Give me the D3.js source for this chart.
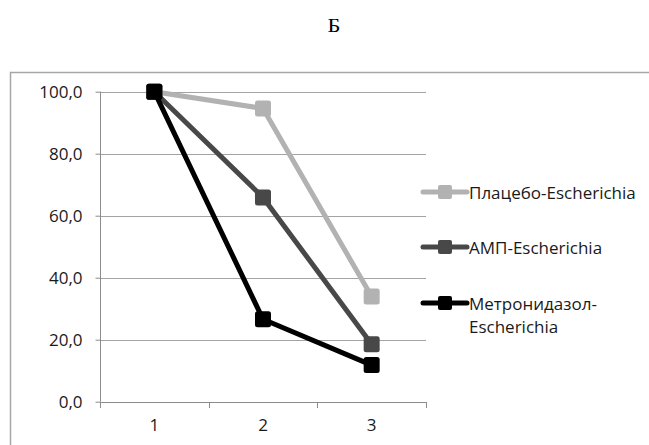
<!DOCTYPE html>
<html lang="ru">
<head>
  <meta charset="UTF-8"/>
  <title>Б</title>
  <script src="https://d3js.org/d3.v7.min.js"></script>
  <style>
    body { margin: 0; background: #fff; }
    text { font-family: "Open Sans", sans-serif; }
  </style>
</head>
<body>
<script>
  var w = 649;
  var h = 445;

  // data
  var categories = ["1", "2", "3"];
  var yTicks = [0, 20, 40, 60, 80, 100];
  var seriesNames = ["Плацебо-Escherichia", "АМП-Escherichia", "Метронидазол-Escherichia"];
  var placebo = [100, 94.6, 33.9];
  var amp = [100, 65.9, 18.5];
  var metro = [100, 26.6, 11.8];

  var colors = ["#b2b2b2", "#484848", "#000000"];
  var series = [placebo, amp, metro];

  // plot area (note: "top" is reserved on window, so use other names)
  var plotL = 100, plotR = 426, plotT = 91.7, plotB = 401.7;
  var fontSize = "17px";

  var xScale = d3.scaleBand()
          .domain(categories)
          .range([plotL, plotR]);

  var yScale = d3.scaleLinear()
          .domain([0, 100])
          .range([plotB, plotT]);

  var svg = d3.select("body")
          .append("svg")
          .attr("width", w)
          .attr("height", h);

  // title
  svg.append("text")
          .attr("transform", "translate(334,31.5) scale(1.25,1)")
          .attr("text-anchor", "middle")
          .style("font-family", "'Liberation Serif', 'DejaVu Serif', serif")
          .style("font-size", "18px")
          .attr("fill", "#000")
          .text("Б");

  // chart frame (left and top edges show, the rest runs off the picture)
  svg.append("path")
          .attr("d", "M10.5," + (h + 5) + "V72.5H" + (w + 5))
          .attr("fill", "none")
          .attr("stroke", "#a6a6a6")
          .attr("stroke-width", 1.5);

  // gridlines
  svg.append("g")
          .selectAll("line")
          .data(yTicks.filter(function(d) { return d > 0; }))
          .enter()
          .append("line")
          .attr("x1", plotL)
          .attr("x2", plotR)
          .attr("y1", function(d) { return Math.round(yScale(d)) + 0.5; })
          .attr("y2", function(d) { return Math.round(yScale(d)) + 0.5; })
          .attr("stroke", "#a3a3a3")
          .attr("stroke-width", 1.2);

  // y axis
  var yAxis = d3.axisLeft(yScale)
          .tickValues(yTicks)
          .tickSize(5)
          .tickPadding(13)
          .tickFormat(function(d) { return d3.format(".1f")(d).replace(".", ","); });

  var gy = svg.append("g")
          .attr("transform", "translate(" + (plotL + 0.5) + ",0)")
          .call(yAxis);
  gy.select(".domain").attr("stroke", "#8c8c8c").attr("d", "M0," + yScale(100) + "V" + yScale(0));
  gy.selectAll(".tick line").attr("stroke", "#8c8c8c");
  gy.selectAll(".tick text")
          .style("font-family", "'Open Sans', sans-serif")
          .style("font-size", fontSize)
          .attr("fill", "#1a1a1a");

  // x axis
  var xAxis = d3.axisBottom(xScale)
          .tickSize(0)
          .tickPadding(16);

  var gx = svg.append("g")
          .attr("transform", "translate(0," + (Math.round(plotB) + 0.5) + ")")
          .call(xAxis);
  gx.select(".domain").attr("stroke", "#8c8c8c").attr("d", "M" + plotL + ",0H" + plotR);
  gx.selectAll(".tick text")
          .style("font-family", "'Open Sans', sans-serif")
          .style("font-size", fontSize)
          .attr("fill", "#1a1a1a");

  // category boundary ticks
  var bounds = [plotL, plotL + xScale.step(), plotL + 2 * xScale.step(), plotR];
  svg.append("g")
          .selectAll("line")
          .data(bounds)
          .enter()
          .append("line")
          .attr("x1", function(d) { return Math.round(d) + 0.5; })
          .attr("x2", function(d) { return Math.round(d) + 0.5; })
          .attr("y1", Math.round(plotB))
          .attr("y2", Math.round(plotB) + 6)
          .attr("stroke", "#8c8c8c");

  var line = d3.line()
          .x(function(d, i) { return xScale(categories[i]) + xScale.bandwidth() / 2; })
          .y(function(d) { return yScale(d); });

  var ms = 16;

  series.forEach(function(vals, k) {
    var g = svg.append("g");
    g.append("path")
            .datum(vals)
            .attr("d", line)
            .attr("fill", "none")
            .attr("stroke", colors[k])
            .attr("stroke-width", 5)
            .attr("stroke-linejoin", "round");
    g.selectAll("rect")
            .data(vals)
            .enter()
            .append("rect")
            .attr("x", function(d, i) { return xScale(categories[i]) + xScale.bandwidth() / 2 - ms / 2; })
            .attr("y", function(d) { return yScale(d) - ms / 2; })
            .attr("width", ms)
            .attr("height", ms)
            .attr("rx", 2.5)
            .attr("fill", colors[k]);
  });

  // legend
  var legendY = [192, 247, 303];
  var lg = svg.append("g");
  seriesNames.forEach(function(name, k) {
    var y = legendY[k];
    lg.append("line")
            .attr("x1", 423)
            .attr("x2", 467)
            .attr("y1", y)
            .attr("y2", y)
            .attr("stroke", colors[k])
            .attr("stroke-width", 5)
            .attr("stroke-linecap", "round");
    lg.append("rect")
            .attr("x", 445 - 7)
            .attr("y", y - 7)
            .attr("width", 14)
            .attr("height", 14)
            .attr("rx", 2)
            .attr("fill", colors[k]);
    var t = lg.append("text")
            .attr("x", 469)
            .attr("y", y + 7)
            .style("font-family", "'Open Sans', sans-serif")
            .style("font-size", fontSize)
            .attr("fill", "#1a1a1a");
    if (k === 2) {
      t.append("tspan").attr("x", 469).text("Метронидазол-");
      t.append("tspan").attr("x", 469).attr("dy", 23).text("Escherichia");
    } else {
      t.text(name);
    }
  });
</script>
</body>
</html>
